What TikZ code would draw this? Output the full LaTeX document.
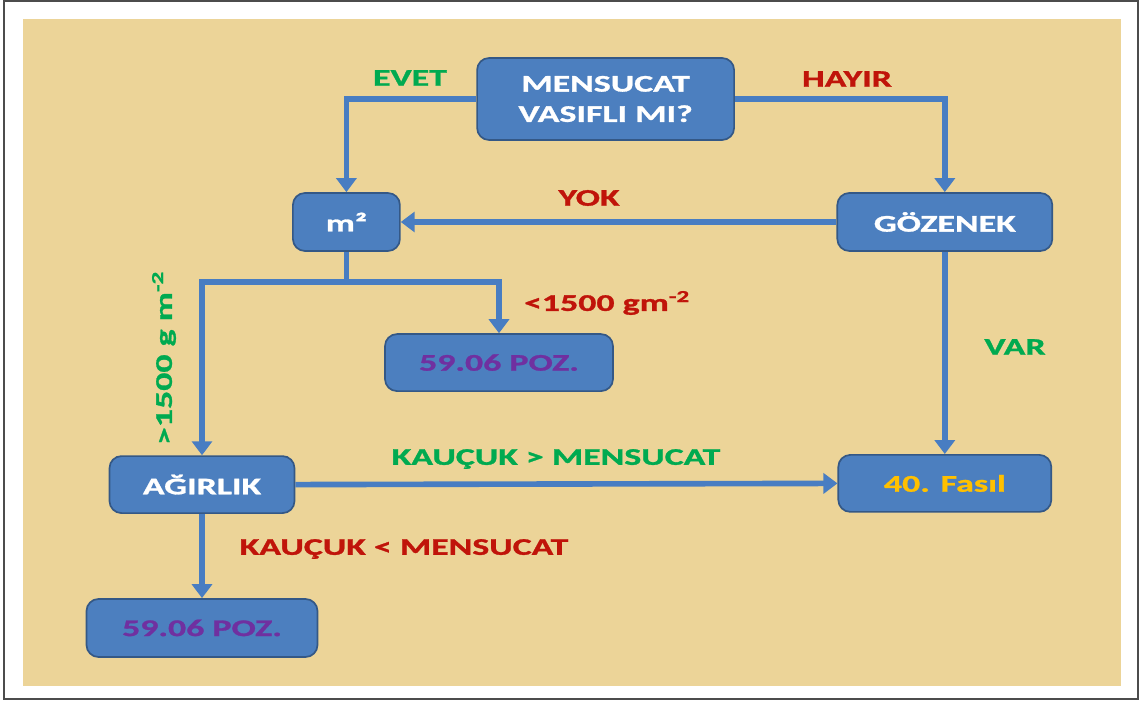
\documentclass[tikz,border=0pt]{standalone}
\usepackage{fontspec}
\setmainfont{Carlito}[FakeStretch=1.5, BoldFeatures={FakeBold=1.2}]
\usepackage{tikz}
\usetikzlibrary{arrows.meta, positioning}
\usepackage{xcolor}

\definecolor{papyrus}{RGB}{236,212,152}
\definecolor{boxblue}{RGB}{76,127,191}
\definecolor{boxedge}{RGB}{52,88,134}
\definecolor{lineblue}{RGB}{72,125,194}
\definecolor{yesgreen}{RGB}{0,170,80}
\definecolor{nored}{RGB}{192,20,10}
\definecolor{pozpurple}{RGB}{112,48,160}
\definecolor{fasilgold}{RGB}{255,192,0}

\begin{document}
\begin{tikzpicture}[
    box/.style={draw=boxedge, line width=1.2pt, fill=boxblue, rounded corners=0.3cm, align=center, text=white, font=\fontsize{17}{21.5}\selectfont\bfseries, inner sep=0pt},
    lbl/.style={font=\fontsize{17}{20}\selectfont\bfseries},
    arrow/.style={-{Triangle[length=0.35cm, width=0.5cm]}, line width=4pt, lineblue},
    link/.style={line width=4pt, lineblue},
]
    \useasboundingbox (0,0) rectangle (28.55,17.525);
    % Frame and papyrus
    \draw[gray!60!black, line width=0.8pt] (0.1,0.05) rectangle (28.45,17.5);
    \fill[papyrus] (0.575,0.375) rectangle (28.025,17.05);

    % Boxes
    \node[box, minimum width=6.425cm, minimum height=2.05cm] (question) at (15.14,15.05) {MENSUCAT\\VASIFLI MI?};
    \node[box, minimum width=2.675cm, minimum height=1.45cm] (msquare) at (8.66,11.975) {m²};
    \node[box, minimum width=5.375cm, minimum height=1.45cm] (pore) at (23.62,11.975) {GÖZENEK};
    \node[box, minimum width=5.7cm, minimum height=1.425cm, text=pozpurple] (pozmid) at (12.475,8.46) {59.06 POZ.};
    \node[box, minimum width=4.625cm, minimum height=1.425cm] (weight) at (5.05,5.41) {AĞIRLIK};
    \node[box, minimum width=5.775cm, minimum height=1.45cm, text=pozpurple] (pozlow) at (5.05,1.825) {59.06 POZ.};
    \node[box, minimum width=5.325cm, minimum height=1.425cm, text=fasilgold] (chapter) at (23.62,5.44) {40. Fasıl};

    % Connectors
    \coordinate (split) at ([yshift=-0.75cm]msquare.south);
    \draw[arrow] (question.west) -| (msquare.north);
    \draw[arrow] (question.east) -| (pore.north);
    \draw[arrow] (pore.west) -- (msquare.east);
    \draw[link] (msquare.south) -- (split);
    \draw[arrow] (split) -| (weight.north);
    \draw[arrow] (split) -| (pozmid.north);
    \draw[arrow] (pore.south) -- (chapter.north);
    \draw[arrow] (weight.east) -- (chapter.west);
    \draw[arrow] (weight.south) -- (pozlow.north);

    % Labels
    \node[lbl, yesgreen] (evet) at (10.25,15.575) {EVET};
    \node[lbl, nored] (hayir) at (21.175,15.55) {HAYIR};
    \node[lbl, nored] (yok) at (14.725,12.575) {YOK};
    \node[lbl, nored] (light) at (15.175,9.95) {<1500 gm\textsuperscript{-2}};
    \node[lbl, yesgreen, rotate=90] (heavy) at (4.1,8.575) {>1500 g m\textsuperscript{-2}};
    \node[lbl, yesgreen] (var) at (25.375,8.85) {VAR};
    \node[lbl, yesgreen] (rubbermore) at (13.9,6.05) {KAUÇUK > MENSUCAT};
    \node[lbl, nored] (rubberless) at (10.1,3.8) {KAUÇUK < MENSUCAT};
\end{tikzpicture}
\end{document}
